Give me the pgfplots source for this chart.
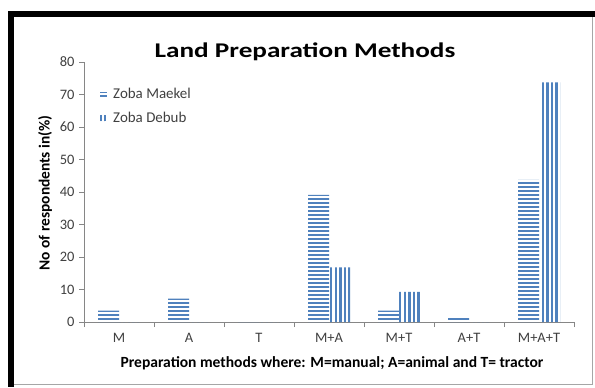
\documentclass[border=0pt]{standalone}
\usepackage{pgfplots}
\pgfplotsset{compat=1.18}
\usepackage{fontspec}
\setmainfont{Carlito}
\usetikzlibrary{patterns.meta}
\definecolor{barblue}{HTML}{4F81BD}
\definecolor{axgray}{HTML}{868686}
\definecolor{txtgray}{HTML}{404040}
\begin{document}
\begin{tikzpicture}[x=1bp,y=1bp]
\useasboundingbox (0,0) rectangle (595,387);
\fill[white] (0,0) rectangle (595,387);
\fill[black] (8,370) rectangle (595,376);
\fill[black] (8,0) rectangle (14,376);
\draw[black!35, line width=1bp] (14,2.5) -- (592.5,2.5) -- (592.5,370);
\begin{axis}[
  at={(84bp,65bp)}, anchor=south west,
  scale only axis, width=490bp, height=260bp,
  xmin=-0.5, xmax=6.5, ymin=0, ymax=80,
  ytick={0,10,...,80},
  xtick={0,...,6},
  xticklabels={M,A,T,M+A,M+T,A+T,M+A+T},
  minor xtick={-0.5,0.5,...,6.5},
  axis x line*=bottom, axis y line*=left,
  axis line style={axgray, line width=0.8bp, -},
  tick align=outside,
  major tick length=5bp, minor tick length=5bp,
  every major x tick/.style={draw=none},
  every minor x tick/.style={axgray, line width=0.8bp},
  every major y tick/.style={axgray, line width=0.8bp},
  /pgf/number format/assume math mode=true,
  ticklabel style={font=\fontsize{14.5}{14.5}\selectfont, text=txtgray},
  yticklabel style={xshift=-1bp},
  xticklabel style={yshift=-3bp},
  ybar=0pt, bar width=21bp,
  legend style={at={(0.025,0.915)}, anchor=north west, draw=none, fill=none,
    font=\fontsize{15}{15}\selectfont, row sep=8bp, text=txtgray,
    /tikz/every odd column/.append style={column sep=4bp}},
  legend cell align=left,
]
\addplot[draw=none, pattern={Lines[angle=0,distance=4bp,line width=2.3bp]}, pattern color=barblue,
  legend image code/.code={\draw[barblue,line width=1.3bp] (0bp,-1.7bp)--(6.5bp,-1.7bp) (0bp,1.7bp)--(6.5bp,1.7bp);}]
  coordinates {(0,3.5) (1,7.2) (2,0) (3,39.1) (4,3.5) (5,1.8) (6,43.7)};
\addlegendentry{Zoba Maekel}
\addplot[draw=none, pattern={Lines[angle=90,distance=4.6bp,line width=2.3bp]}, pattern color=barblue,
  legend image code/.code={\draw[barblue,line width=1.3bp] (1bp,-3.2bp)--(1bp,3.2bp) (4.8bp,-3.2bp)--(4.8bp,3.2bp);}]
  coordinates {(0,0) (1,0) (2,0) (3,16.8) (4,9.3) (5,0) (6,73.7)};
\addlegendentry{Zoba Debub}
\end{axis}
\node[font=\bfseries\fontsize{21}{25}\selectfont, anchor=base, xscale=1.3] at (305,330) {Land Preparation Methods};
\node[font=\bfseries\fontsize{15.5}{17}\selectfont, rotate=90] at (45,194) {No of respondents in(\%)};
\node[font=\bfseries\fontsize{15.6}{18}\selectfont] at (332,24) {Preparation methods where: M=manual; A=animal and T= tractor};
\end{tikzpicture}
\end{document}
